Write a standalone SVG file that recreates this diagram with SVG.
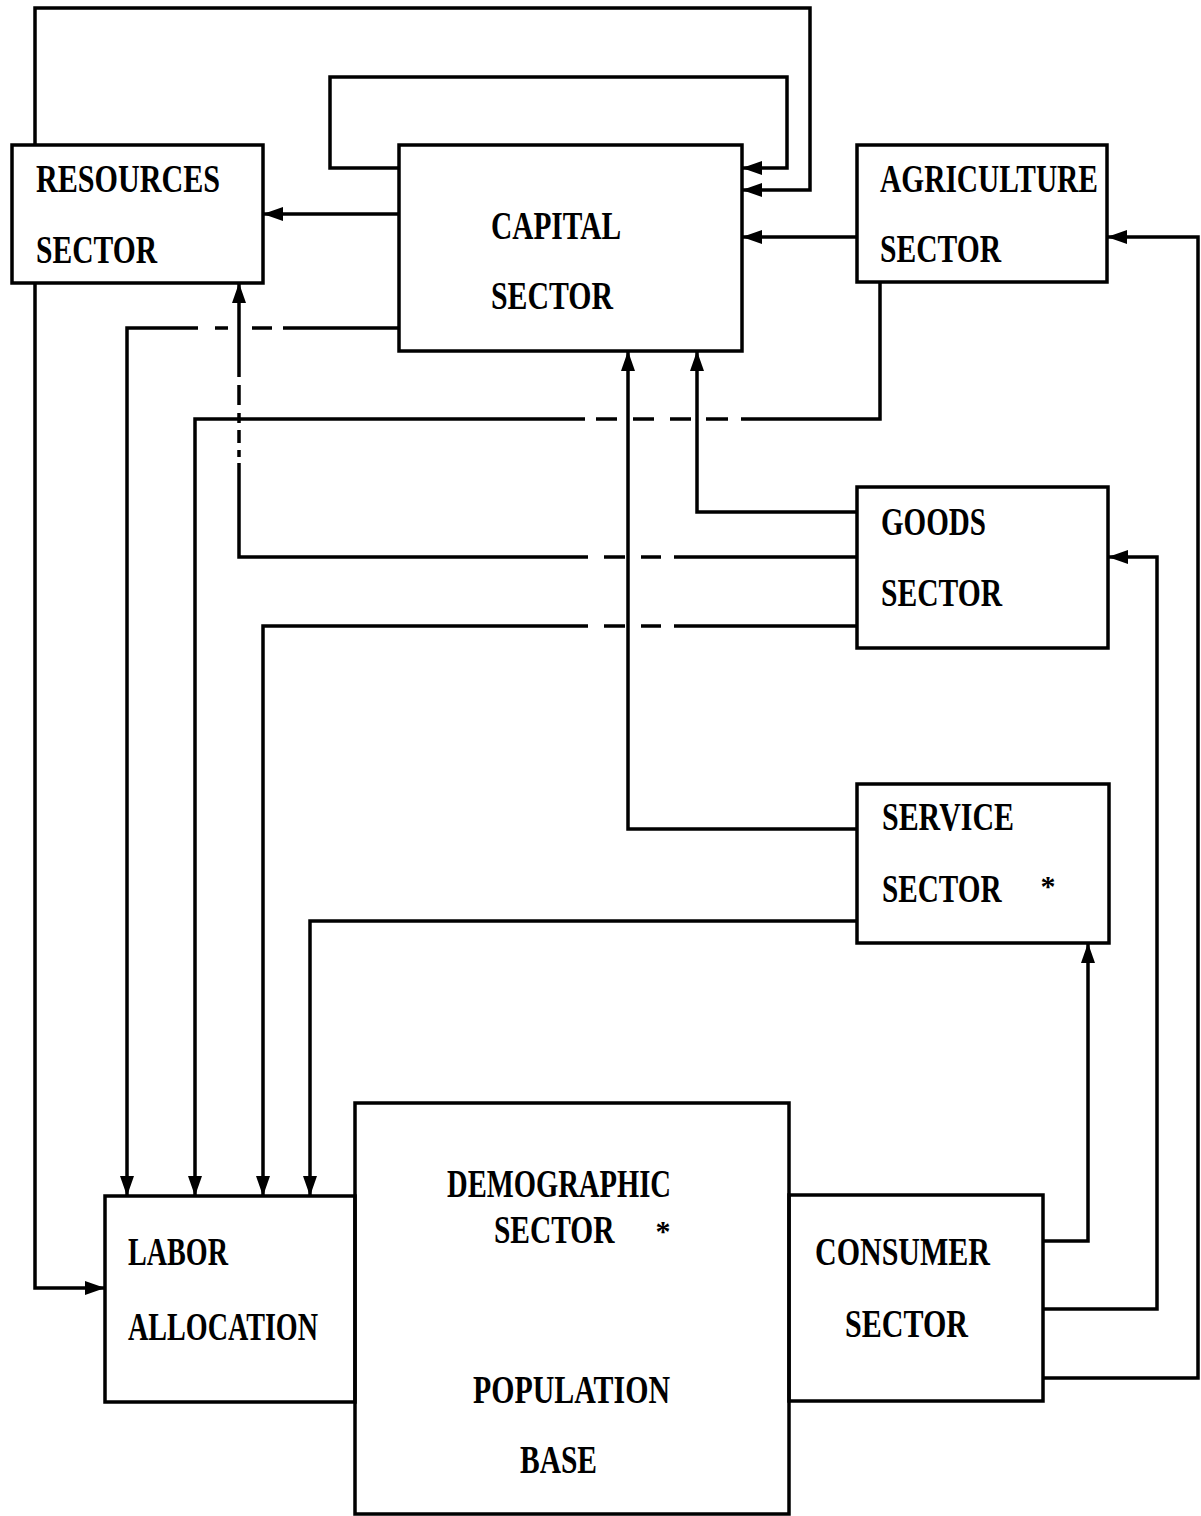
<svg xmlns="http://www.w3.org/2000/svg" width="1201" height="1516" viewBox="0 0 1201 1516">
<style>
.box{fill:none;stroke:#000;stroke-width:3.5}
.ln{fill:none;stroke:#000;stroke-width:3.5;stroke-linejoin:miter;stroke-linecap:butt}
.arr{marker-end:url(#ah)}
.t{font-family:"Liberation Serif","DejaVu Serif",serif;font-weight:bold;font-size:41px;fill:#000}
.ast{font-family:"Liberation Serif","DejaVu Serif",serif;font-weight:bold;font-size:30px;fill:#000;text-anchor:middle}
</style>
<defs>
<marker id="ah" viewBox="0 0 20 14" refX="20" refY="7" markerWidth="20" markerHeight="14" markerUnits="userSpaceOnUse" orient="auto">
<path d="M0,0 L20,7 L0,14 z" fill="#000"/>
</marker>
</defs>
<rect width="1201" height="1516" fill="#fff"/>

<g id="connectors">
<path class="ln arr" d="M35,145 V8 H810 V190 H742"/>
<path class="ln arr" d="M399,168 H330 V77 H787 V168 H742"/>
<path class="ln arr" d="M399,214 H263"/>
<path class="ln arr" d="M857,237 H742"/>
<path class="ln" d="M399,328 H283 M272,328 H252 M228,328 H215"/>
<path class="ln arr" d="M198,328 H127 V1196"/>
<path class="ln" d="M880,282 V419 H741 M728,419 H706 M691,419 H670 M654,419 H633 M617,419 H596"/>
<path class="ln arr" d="M585,419 H195 V1196"/>
<path class="ln arr" d="M857,512 H697 V351"/>
<path class="ln" d="M857,557 H674 M661,557 H641 M625,557 H604 M588,557 H239 V463 M239,457 V450 M239,443 V430 M239,423 V413 M239,405 V385"/>
<path class="ln arr" d="M239,377 V283"/>
<path class="ln" d="M857,626 H674 M661,626 H641 M625,626 H604"/>
<path class="ln arr" d="M588,626 H263 V1196"/>
<path class="ln arr" d="M857,829 H628 V351"/>
<path class="ln arr" d="M857,921 H310 V1196"/>
<path class="ln arr" d="M35,283 V1288 H105"/>
<path class="ln arr" d="M1043,1241 H1088 V943"/>
<path class="ln arr" d="M1043,1309 H1157 V557 H1108"/>
<path class="ln arr" d="M1043,1378 H1198 V237 H1107"/>
</g>

<g id="resources">
<rect class="box" x="12" y="145" width="251" height="138"/>
<text class="t" x="36" y="192" textLength="184" lengthAdjust="spacingAndGlyphs">RESOURCES</text>
<text class="t" x="36" y="263" textLength="121" lengthAdjust="spacingAndGlyphs">SECTOR</text>
</g>

<g id="capital">
<rect class="box" x="399" y="145" width="343" height="206"/>
<text class="t" x="491" y="239" textLength="130" lengthAdjust="spacingAndGlyphs">CAPITAL</text>
<text class="t" x="491" y="309" textLength="122" lengthAdjust="spacingAndGlyphs">SECTOR</text>
</g>

<g id="agriculture">
<rect class="box" x="857" y="145" width="250" height="137"/>
<text class="t" x="880" y="192" textLength="218" lengthAdjust="spacingAndGlyphs">AGRICULTURE</text>
<text class="t" x="880" y="262" textLength="121" lengthAdjust="spacingAndGlyphs">SECTOR</text>
</g>

<g id="goods">
<rect class="box" x="857" y="487" width="251" height="161"/>
<text class="t" x="881" y="535" textLength="105" lengthAdjust="spacingAndGlyphs">GOODS</text>
<text class="t" x="881" y="606" textLength="121" lengthAdjust="spacingAndGlyphs">SECTOR</text>
</g>

<g id="service">
<rect class="box" x="857" y="784" width="252" height="159"/>
<text class="t" x="882" y="830" textLength="132" lengthAdjust="spacingAndGlyphs">SERVICE</text>
<text class="t" transform="translate(882,902) scale(0.712,1)" x="0" y="0">SECTOR</text>
<text class="ast" x="1048" y="896">*</text>
</g>

<g id="labor">
<rect class="box" x="105" y="1196" width="250" height="206"/>
<text class="t" x="128" y="1265" textLength="100" lengthAdjust="spacingAndGlyphs">LABOR</text>
<text class="t" x="128" y="1340" textLength="190" lengthAdjust="spacingAndGlyphs">ALLOCATION</text>
</g>

<g id="demographic">
<rect class="box" x="355" y="1103" width="434" height="411"/>
<text class="t" x="447" y="1197" textLength="224" lengthAdjust="spacingAndGlyphs">DEMOGRAPHIC</text>
<text class="t" transform="translate(494,1243) scale(0.718,1)" x="0" y="0">SECTOR</text>
<text class="ast" x="663" y="1241">*</text>
<text class="t" x="473" y="1403" textLength="197" lengthAdjust="spacingAndGlyphs">POPULATION</text>
<text class="t" x="520" y="1473" textLength="77" lengthAdjust="spacingAndGlyphs">BASE</text>
</g>

<g id="consumer">
<rect class="box" x="789" y="1195" width="254" height="206"/>
<text class="t" x="815" y="1265" textLength="175" lengthAdjust="spacingAndGlyphs">CONSUMER</text>
<text class="t" x="845" y="1337" textLength="123" lengthAdjust="spacingAndGlyphs">SECTOR</text>
</g>
</svg>
